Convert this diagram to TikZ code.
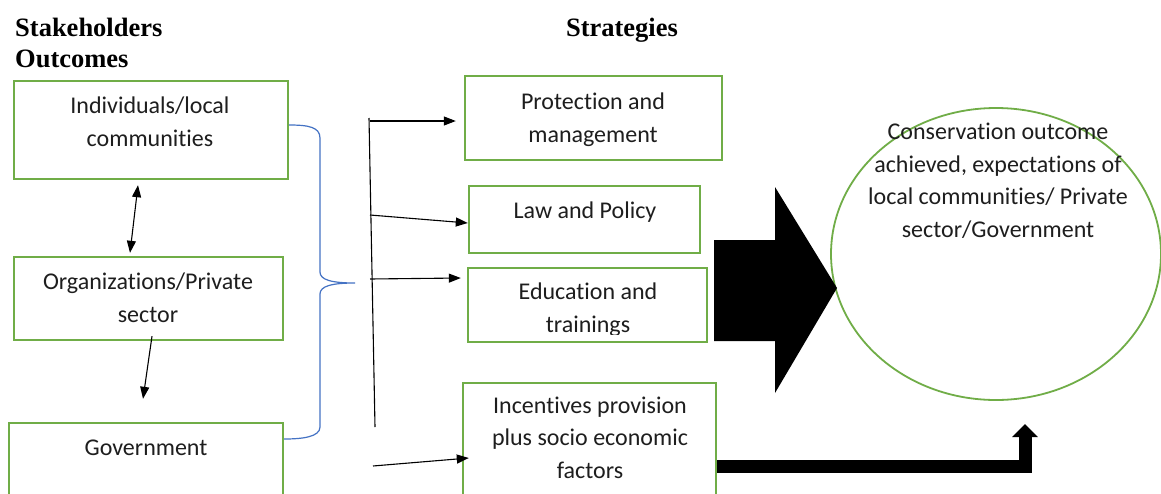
\documentclass[tikz,border=0pt]{standalone}
\usepackage{fontspec}
\setmainfont{Carlito}[Ligatures=NoCommon]
\newfontfamily\headfont{Liberation Serif}
\usetikzlibrary{arrows.meta,shapes.geometric}
\definecolor{boxgreen}{RGB}{112,173,71}
\definecolor{bracecol}{RGB}{68,114,196}
\definecolor{textgray}{RGB}{30,30,30}

\begin{document}
\begin{tikzpicture}[x=1pt,y=-1pt,
  box/.style={draw=boxgreen, line width=2.4pt, rectangle, inner sep=0pt},
  txt/.style={align=center, inner sep=0pt, anchor=base, text=textgray,
              font=\fontsize{24}{32.5}\selectfont},
  head/.style={inner sep=0pt, text=black,
               font=\headfont\bfseries\fontsize{26.5}{31}\selectfont},
  arr/.style={-{Triangle[length=12pt,width=9pt]}, line width=1.1pt, black},
  darr/.style={{Triangle[length=12pt,width=9pt]}-{Triangle[length=12pt,width=9pt]}, line width=1.1pt, black},
  brace/.style={draw=bracecol, line width=1.2pt},
]
\clip (0,0) rectangle (1161,493);
\fill[white] (0,0) rectangle (1161,493);

% column headings
\node[head, anchor=base west] (h1) at (15,36) {Stakeholders};
\node[head, anchor=base west] (h2) at (15,67) {Outcomes};
\node[head, anchor=base] (h3) at (622,36) {Strategies};

% stakeholder boxes (text anchored at the baseline of its last line)
\node[box, minimum width=274pt, minimum height=98pt] (ind) at (151,130) {};
\node[box, minimum width=269pt, minimum height=83pt] (org) at (148.5,298.5) {};
\node[box, minimum width=274pt, minimum height=87pt] (gov) at (146,466.5) {};
\node[txt] (tind) at (150,146) {Individuals/local\\communities};
\node[txt] (torg) at (148,322) {Organizations/Private\\sector};
\node[txt] (tgov) at (146,455) {Government};

% strategy boxes
\node[box, minimum width=257pt, minimum height=84pt] (prot) at (593.5,118) {};
\node[box, minimum width=231pt, minimum height=67pt] (law) at (584.5,219.5) {};
\node[box, minimum width=239pt, minimum height=74pt] (edu) at (587.5,305) {};
\node[box, minimum width=253pt, minimum height=127pt] (inc) at (589.5,446.5) {};
\node[txt] (tprot) at (593,142) {Protection and\\management};
\node[txt] (tlaw) at (585,218) {Law and Policy};
\begin{scope}
  \clip (470,270) rectangle (705,334);
  \node[txt] (tedu) at (588,332) {Education and\\trainings};
\end{scope}
\node[txt] (tinc) at (590,478) {Incentives provision\\plus socio economic\\factors};

% outcome
\node[ellipse, draw=boxgreen, line width=1.8pt, minimum width=330pt, minimum height=292pt, inner sep=0pt] (goal) at (996,254) {};
\node[txt] (tgoal) at (998,237) {Conservation outcome\\achieved, expectations of\\local communities/ Private\\sector/Government};

% links between stakeholders
\draw[darr] ([xshift=-13pt,yshift=-5pt]ind.south) -- ([xshift=-18.5pt,yshift=3pt]org.north);
\draw[arr] ([xshift=3.5pt,yshift=5pt]org.south) -- ([xshift=-3pt,yshift=23pt]gov.north);

% brace gathering the stakeholders
\coordinate (cusp) at (355,283);
\draw[brace] (ind.east |- 0,125) .. controls (308,125) and (320,127) .. (320,138)
  -- (320,272) .. controls (320,280) and (332,283) .. (cusp)
  .. controls (332,283) and (320,286) .. (320,294)
  -- (320,427) .. controls (320,437) and (302,439) .. (gov.east |- 0,439);

% distribution line towards the strategies
\coordinate (top) at (369,118);
\coordinate (bot) at (375,427);
\coordinate (s1) at (370,121);
\coordinate (s2) at (370,215);
\coordinate (s3) at (370,279);
\coordinate (s4) at (373,466);
\draw[line width=1.1pt] (top) -- (bot);
\draw[arr] (s1) -- ([xshift=-8pt]prot.west |- 0,121);
\draw[arr] (s2) -- (law.west |- 0,223);
\draw[arr] (s3) -- ([xshift=-6pt]edu.west |- 0,278);
\draw[arr] (s4) -- ([xshift=7pt]inc.west |- 0,458);

% block arrow into the outcome
\fill[black] (714,240) -- (775,240) -- (775,187) -- (837,288) -- (775,393)
  -- (775,341) -- (714,341) -- cycle;

% elbow arrow from incentives
\coordinate (up) at (1025,424);
\draw[line width=13pt, -{Triangle[length=13pt,width=25pt]}] (inc.east |- 0,466) -| (up);
\end{tikzpicture}
\end{document}
